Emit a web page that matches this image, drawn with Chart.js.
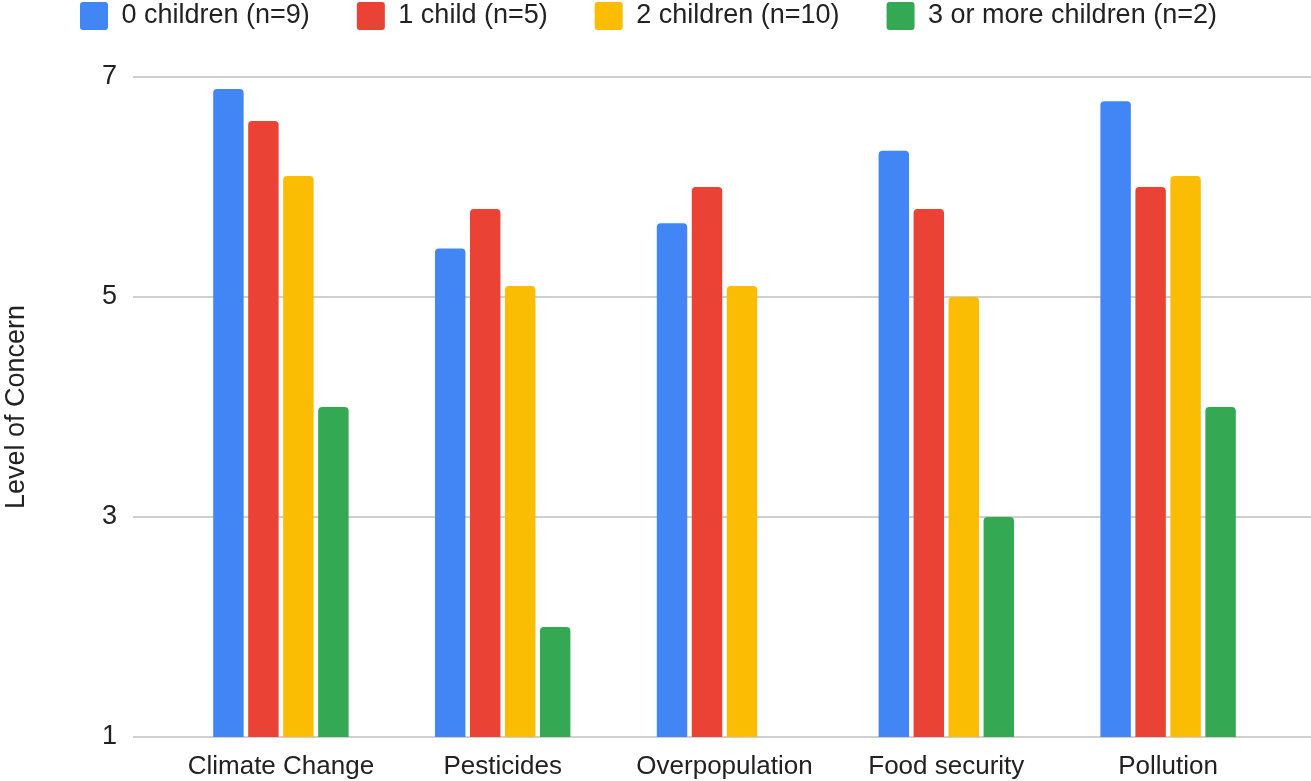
<!DOCTYPE html>
<html>
<head>
<meta charset="utf-8">
<title>Level of Concern</title>
<script src="https://cdn.jsdelivr.net/npm/chart.js@4"></script>
<style>
    html, body { margin: 0; padding: 0; background: #ffffff; }
    #wrap { width: 1311px; height: 781px; position: relative; }
</style>
</head>
<body>
<div id="wrap"><canvas id="canvasConcern"></canvas></div>
<script>
// データ
var categories = ['Climate Change', 'Pesticides', 'Overpopulation', 'Food security', 'Pollution'];
var seriesNames = ['0 children (n=9)', '1 child (n=5)', '2 children (n=10)', '3 or more children (n=2)'];
var zeroChildren = [6.89, 5.44, 5.67, 6.33, 6.78];
var oneChild = [6.6, 5.8, 6.0, 5.8, 6.0];
var twoChildren = [6.1, 5.1, 5.1, 5.0, 6.1];
var threeOrMore = [4, 2, null, 3, 4];
var yTickValues = [1, 3, 5, 7];
var yTitle = 'Level of Concern';

var seriesColors = ['#4285f4', '#ea4335', '#fbbc04', '#34a853'];
var fontFamily = '"Liberation Sans", Arial, sans-serif';
var textColor = '#222222';
var gridColor = '#cfcfcf';

// グリッド線を右端まで伸ばして描く（左側は目盛り線で伸ばす）
var wideGridPlugin = {
    id: 'wideGrid',
    beforeDatasetsDraw: function(chart) {
        var ctx = chart.ctx;
        var yScale = chart.scales.y;
        var area = chart.chartArea;
        ctx.save();
        ctx.strokeStyle = gridColor;
        ctx.lineWidth = 2;
        yScale.ticks.forEach(function(tick) {
            var py = Math.round(yScale.getPixelForValue(tick.value));
            ctx.beginPath();
            ctx.moveTo(area.left, py);
            ctx.lineTo(chart.width, py);
            ctx.stroke();
        });
        ctx.restore();
    }
};

// 凡例を左上に寄せる（padding は項目間の間隔として使う）
var legendShiftPlugin = {
    id: 'legendShift',
    afterLayout: function(chart) {
        var lg = chart.legend;
        lg.left += 33;
        lg.right += 33;
        lg.top -= 45;
        lg.bottom -= 45;
    }
};

document.addEventListener('DOMContentLoaded', function() {
    var canvas = document.getElementById('canvasConcern').getContext('2d');
    var values = [zeroChildren, oneChild, twoChildren, threeOrMore];

    var datasets = seriesNames.map(function(name, i) {
        return {
            label: name,
            data: values[i],
            backgroundColor: seriesColors[i],
            borderWidth: 0,
            borderRadius: 4,
            categoryPercentage: 0.631,
            barPercentage: 0.87
        };
    });

    new Chart(canvas, {
        type: 'bar',
        data: {
            labels: categories,
            datasets: datasets
        },
        options: {
            responsive: true,
            maintainAspectRatio: false,
            animation: false,
            layout: {
                padding: { top: 0, left: 0, right: 32, bottom: 0 }
            },
            plugins: {
                legend: {
                    position: 'top',
                    align: 'start',
                    maxHeight: 77,
                    labels: {
                        boxWidth: 28,
                        boxHeight: 28,
                        padding: 47,
                        useBorderRadius: true,
                        borderRadius: 3,
                        color: textColor,
                        font: { family: fontFamily, size: 27 }
                    }
                },
                tooltip: { enabled: false }
            },
            scales: {
                x: {
                    grid: { display: false, drawTicks: false },
                    border: { display: false },
                    afterFit: function(scale) {
                        scale.height = 44;
                    },
                    ticks: {
                        padding: 14,
                        color: textColor,
                        font: { family: fontFamily, size: 26 }
                    }
                },
                y: {
                    min: 1,
                    max: 7,
                    grid: {
                        display: true,
                        drawOnChartArea: false,
                        drawTicks: true,
                        tickLength: 37,
                        color: gridColor,
                        lineWidth: 2
                    },
                    border: { display: false },
                    afterBuildTicks: function(scale) {
                        scale.ticks = yTickValues.map(function(v) { return { value: v }; });
                    },
                    afterFit: function(scale) {
                        scale.width = 170;
                    },
                    ticks: {
                        padding: 16,
                        color: textColor,
                        font: { family: fontFamily, size: 27 }
                    },
                    title: {
                        display: true,
                        text: yTitle,
                        color: textColor,
                        padding: { top: 0, bottom: 0 },
                        font: { family: fontFamily, size: 27 }
                    }
                }
            }
        },
        plugins: [wideGridPlugin, legendShiftPlugin]
    });
});
</script>
</body>
</html>
